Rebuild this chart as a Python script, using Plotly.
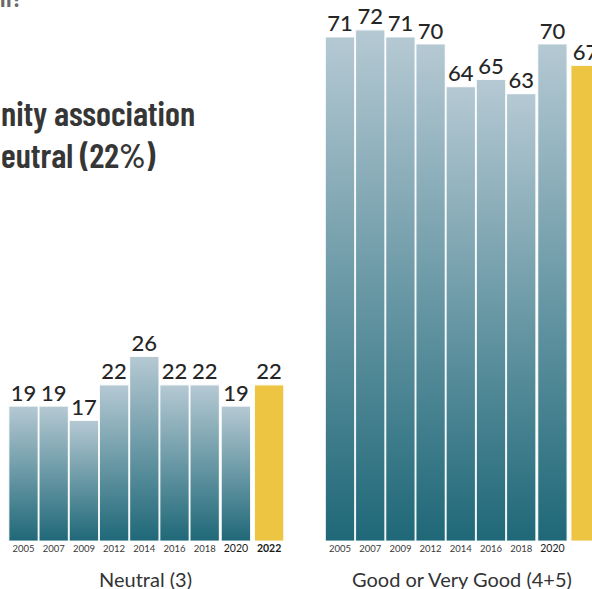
import plotly.graph_objects as go

# ---- data ----
years = ["2005", "2007", "2009", "2012", "2014", "2016", "2018", "2020", "2022"]
neutral = [19, 19, 17, 22, 26, 22, 22, 19, 22]
good = [71, 72, 71, 70, 64, 65, 63, 70, 67]
group_labels = ["Neutral (3)", "Good or Very Good (4+5)"]
title_lines = ["nity association", "eutral (22%)"]
top_fragment = "n?"

# ---- layout constants (pixel-like x units) ----
W, H = 592, 589
PLOT_BOTTOM = 541
Y_MAX = 76.2
group_start = [23.5, 340.0]
group_label_x = [145, 462]
pitch = 30.2
extra_gap = {7: 1.0, 8: 3.0}
bar_w = 29.4
TOP = "#b5c9d3"
BOTTOM = "#1f6878"
YELLOW = "#eec443"
TFONT = "Barlow Condensed, Archivo Narrow, Asap Condensed, sans-serif"


def centers(start):
    out, shift = [], 0.0
    for i in range(len(years)):
        shift += extra_gap.get(i, 0.0)
        out.append(start + i * pitch + shift)
    return out


def py(ypx):
    return (PLOT_BOTTOM - ypx) / PLOT_BOTTOM


fig = go.Figure()
tickvals, ticktext = [], []
for g, vals in enumerate([neutral, good]):
    cs = centers(group_start[g])
    for i, (c, v) in enumerate(zip(cs, vals)):
        xs = [c - bar_w / 2, c + bar_w / 2, c + bar_w / 2, c - bar_w / 2, c - bar_w / 2]
        ys = [0, 0, v, v, 0]
        if years[i] == "2022":
            fig.add_trace(go.Scatter(x=xs, y=ys, mode="lines", fill="toself",
                                     fillcolor=YELLOW,
                                     line=dict(color="rgba(255,255,255,0.85)", width=1.2),
                                     hoverinfo="skip", showlegend=False))
        else:
            fig.add_trace(go.Scatter(x=xs, y=ys, mode="lines", fill="toself",
                                     fillgradient=dict(type="vertical", start=0, stop=v,
                                                       colorscale=[[0, BOTTOM], [1, TOP]]),
                                     line=dict(color="rgba(255,255,255,0.85)", width=1.2),
                                     hoverinfo="skip", showlegend=False))
    fig.add_trace(go.Scatter(x=cs, y=vals, mode="text", text=[str(v) for v in vals],
                             textposition="top center",
                             textfont=dict(family="Lato", size=22, color="#262626", weight=500),
                             hoverinfo="skip", showlegend=False))
    for c, yr in zip(cs, years):
        tickvals.append(c)
        if yr == "2022":
            ticktext.append("<span style='font-size:10.5px;color:#1a1a1a'><b>2022</b></span>")
        elif yr == "2020":
            ticktext.append("<span style='font-size:10.5px;color:#1a1a1a'>2020</span>")
        else:
            ticktext.append(yr)

ann = []
ann.append(dict(text=title_lines[0], x=-1 / W, y=py(112.5), xref="paper", yref="paper",
                xanchor="left", yanchor="middle", showarrow=False,
                font=dict(family=TFONT, size=34.5, color="#363636", weight=600)))
ann.append(dict(text=title_lines[1], x=-1 / W, y=py(153.5), xref="paper", yref="paper",
                xanchor="left", yanchor="middle", showarrow=False,
                font=dict(family=TFONT, size=34.5, color="#363636", weight=600)))
ann.append(dict(text=top_fragment, x=-2 / W, y=py(14), xref="paper", yref="paper",
                xanchor="left", yanchor="bottom", showarrow=False,
                font=dict(family=TFONT, size=26, color="#6a6a6a", weight=600)))
for g, lab in enumerate(group_labels):
    ann.append(dict(text=lab, x=group_label_x[g], y=py(578.5), xref="x", yref="paper",
                    xanchor="center", yanchor="middle", showarrow=False,
                    font=dict(family="Lato", size=20, color="#333333")))

fig.update_layout(
    width=W, height=H,
    margin=dict(l=0, r=0, t=0, b=H - PLOT_BOTTOM),
    paper_bgcolor="white", plot_bgcolor="white",
    showlegend=False,
    annotations=ann,
    xaxis=dict(range=[0, W], showgrid=False, zeroline=False, showline=False,
               tickvals=tickvals, ticktext=ticktext, ticks="",
               tickfont=dict(family="Lato", size=9.5, color="#3a3a3a"),
               fixedrange=True),
    yaxis=dict(range=[0, Y_MAX], visible=False, fixedrange=True),
)

fig.write_html("out.html", config={"displayModeBar": False},
               post_script="document.body.style.margin='0';document.body.style.padding='0';")
